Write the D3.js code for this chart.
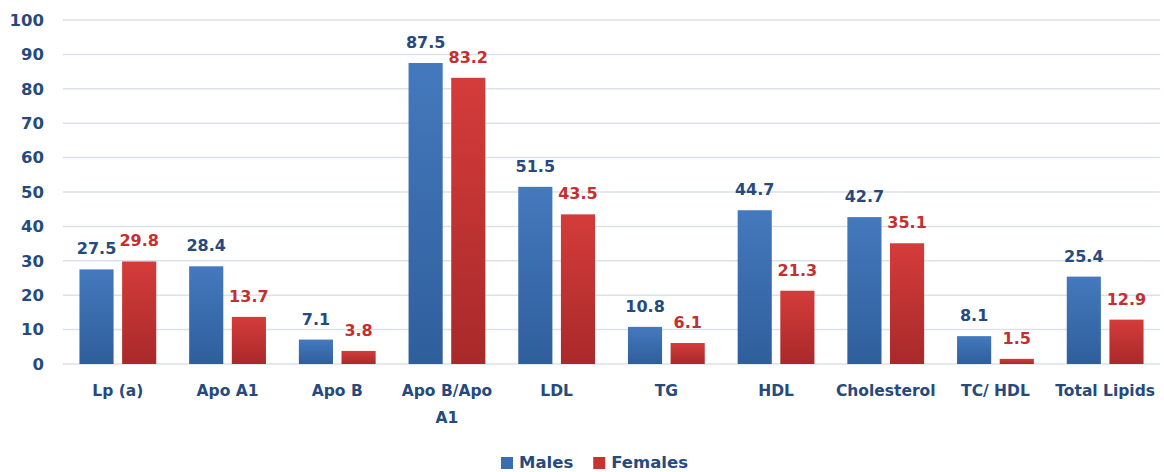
<!DOCTYPE html>
<html>
<head>
<meta charset="utf-8">
<script src="https://cdn.jsdelivr.net/npm/d3@7"></script>
<style>
  html, body { margin: 0; padding: 0; background: #fff; }
  svg text { font-family: "DejaVu Sans", Verdana, sans-serif; font-weight: bold; }
</style>
</head>
<body>
<svg id="chart" width="1164" height="472"></svg>
<script>
// Lipid parameters, percentage per sex
const categories = ["Lp (a)", "Apo A1", "Apo B", "Apo B/Apo A1", "LDL", "TG", "HDL", "Cholesterol", "TC/ HDL", "Total Lipids"];
const males   = [27.5, 28.4, 7.1, 87.5, 51.5, 10.8, 44.7, 42.7, 8.1, 25.4];
const females = [29.8, 13.7, 3.8, 83.2, 43.5, 6.1, 21.3, 35.1, 1.5, 12.9];
const seriesNames = ["Males", "Females"];
const yTicks = [0, 10, 20, 30, 40, 50, 60, 70, 80, 90, 100];

const svg = d3.select("#chart");
const plot = { left: 63, right: 1160, top: 20, bottom: 364 };

const navy = "#264a7e";
const redText = "#c42f2f";

// gradients for the bars
const defs = svg.append("defs");
const gBlue = defs.append("linearGradient").attr("id", "gBlue").attr("x1", 0).attr("y1", 0).attr("x2", 0).attr("y2", 1);
gBlue.append("stop").attr("offset", "0%").attr("stop-color", "#4479bd");
gBlue.append("stop").attr("offset", "100%").attr("stop-color", "#2f5e9c");
const gRed = defs.append("linearGradient").attr("id", "gRed").attr("x1", 0).attr("y1", 0).attr("x2", 0).attr("y2", 1);
gRed.append("stop").attr("offset", "0%").attr("stop-color", "#d43c3a");
gRed.append("stop").attr("offset", "100%").attr("stop-color", "#a9292a");

const x0 = d3.scaleBand().domain(categories).range([plot.left, plot.right]).paddingInner(0.3).paddingOuter(0.15);
const x1 = d3.scaleBand().domain(seriesNames).range([0, x0.bandwidth()]).paddingInner(0.2);
const y = d3.scaleLinear().domain([0, 100]).range([plot.bottom, plot.top]);

// horizontal gridlines
svg.append("g").selectAll("line").data(yTicks).join("line")
  .attr("x1", plot.left).attr("x2", plot.right)
  .attr("y1", d => y(d)).attr("y2", d => y(d))
  .attr("stroke", "#dbe1ea").attr("stroke-width", 1.5);

// y axis labels
const yAxis = d3.axisLeft(y).tickValues(yTicks).tickSize(0).tickPadding(0);
const yg = svg.append("g").attr("transform", "translate(44,0)").call(yAxis);
yg.select(".domain").remove();
yg.selectAll("text").attr("fill", navy).style("font-size", "16.5px").style("font-weight", "bold")
  .style("font-family", "'DejaVu Sans', Verdana, sans-serif");

// bars
const rows = categories.map((c, i) => ({ c, vals: [{ s: "Males", v: males[i] }, { s: "Females", v: females[i] }] }));
const groups = svg.append("g").selectAll("g").data(rows).join("g")
  .attr("transform", d => `translate(${x0(d.c)},0)`);

groups.selectAll("rect").data(d => d.vals).join("rect")
  .attr("x", d => x1(d.s))
  .attr("width", x1.bandwidth())
  .attr("y", d => y(d.v))
  .attr("height", d => y(0) - y(d.v))
  .attr("fill", d => d.s === "Males" ? "url(#gBlue)" : "url(#gRed)");

// value labels
groups.selectAll("text.val").data(d => d.vals).join("text")
  .attr("class", "val")
  .attr("x", d => x1(d.s) + x1.bandwidth() / 2)
  .attr("y", d => y(d.v) - 15)
  .attr("text-anchor", "middle")
  .attr("fill", d => d.s === "Males" ? navy : redText)
  .style("font-size", "16px")
  .text(d => d.v.toFixed(1));

// category labels with wrapping
const xAxis = d3.axisBottom(x0).tickSize(0).tickPadding(0);
const xg = svg.append("g").attr("transform", `translate(0,${plot.bottom})`).call(xAxis);
xg.select(".domain").remove();
xg.selectAll("text")
  .attr("fill", navy)
  .style("font-size", "15.5px").style("font-weight", "bold")
  .style("font-family", "'DejaVu Sans', Verdana, sans-serif")
  .attr("y", 32).attr("dy", 0)
  .each(function () {
    const t = d3.select(this);
    const words = t.text().split(/\s+/);
    const maxW = x0.step() - 4;
    t.text(null);
    let line = [];
    let tspan = t.append("tspan").attr("x", 0).attr("dy", 0);
    for (const w of words) {
      line.push(w);
      tspan.text(line.join(" "));
      if (tspan.node().getComputedTextLength() > maxW && line.length > 1) {
        line.pop();
        tspan.text(line.join(" "));
        line = [w];
        tspan = t.append("tspan").attr("x", 0).attr("dy", 27).text(w);
      }
    }
  });

// legend
const legend = svg.append("g");
const items = [{ name: "Males", fill: "#3a6daf" }, { name: "Females", fill: "#c43432" }];
let lx = 501;
items.forEach(it => {
  legend.append("rect").attr("x", lx).attr("y", 457).attr("width", 12).attr("height", 12).attr("fill", it.fill);
  const tx = legend.append("text").attr("x", lx + 18).attr("y", 468).attr("fill", navy)
    .style("font-size", "16.5px").text(it.name);
  lx += 18 + tx.node().getComputedTextLength() + 20;
});
</script>
</body>
</html>
